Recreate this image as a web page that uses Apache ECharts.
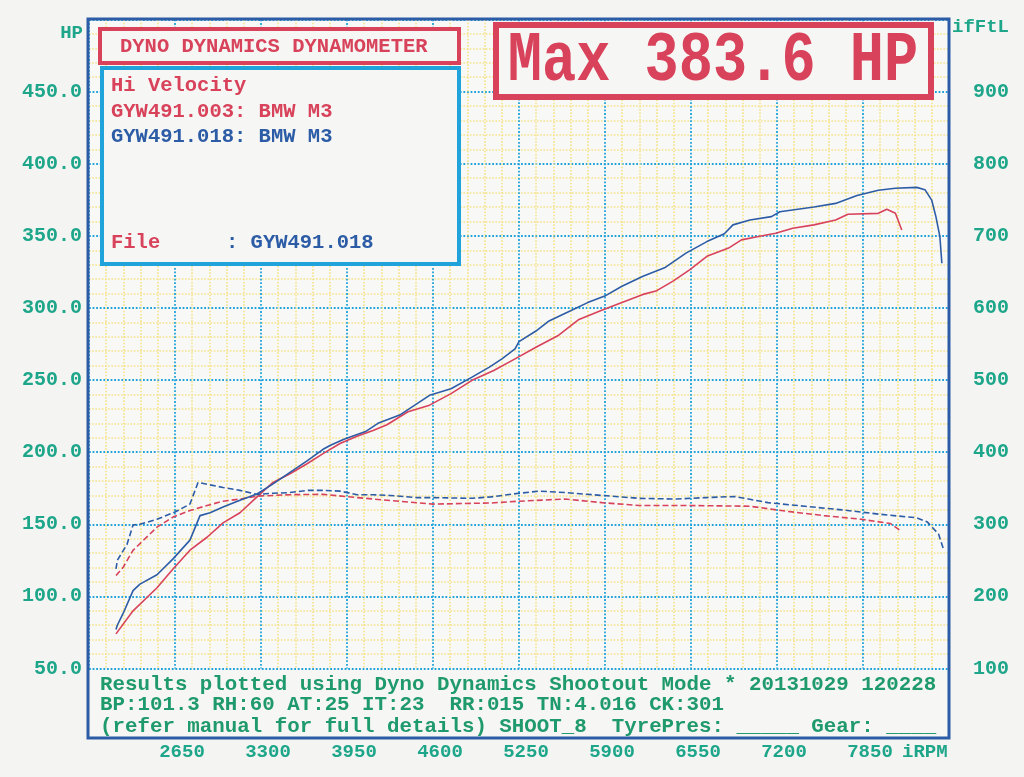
<!DOCTYPE html>
<html>
<head>
<meta charset="utf-8">
<script src="https://cdn.jsdelivr.net/npm/echarts@6/dist/echarts.min.js"></script>
<style>
html,body{margin:0;padding:0;background:#f4f4f2;}
#chart{width:1024px;height:777px;}
</style>
</head>
<body>
<div id="chart"></div>
<script>
// ---- Data read from the dyno sheet ----
const hp018 = [[2204,77],[2214,80],[2257,88],[2333,104],[2385,108.5],[2514,115],[2635,126],[2763,139],[2839,156],[2915,158],[3013,162],[3141,166.6],[3270,171],[3391,178],[3519,186],[3648,194],[3769,202],[3829,205],[3927,209],[4090,214.3],[4184,220],[4348,225.7],[4574,239.4],[4736,244],[4895,252],[5026,259],[5121,264.7],[5220,271.6],[5250,276.6],[5378,284],[5477,291],[5640,298],[5769,303.7],[5898,308.2],[6028,315],[6187,322],[6350,327.8],[6512,338],[6670,346],[6802,351.4],[6867,357.6],[6995,361],[7158,363.3],[7222,366.7],[7479,370],[7643,372.5],[7805,378],[7966,381.6],[8095,383],[8256,383.6],[8318,382],[8369,374.8],[8401,363.3],[8431,349.5],[8446,331]];
const hp003 = [[2204,74],[2333,90],[2514,106],[2635,119],[2763,132],[2892,141],[3013,151],[3141,158],[3270,169],[3391,179],[3519,185],[3648,192],[3769,199],[3897,206],[4026,211],[4147,215],[4252,219],[4411,228],[4574,232.6],[4736,240.6],[4895,249.8],[5059,256.6],[5220,264.7],[5378,272.7],[5543,280.7],[5703,292],[5866,298],[6028,303.7],[6187,309.4],[6285,311.7],[6414,318.6],[6542,326.6],[6670,335.8],[6834,341.5],[6931,347.2],[7060,349.5],[7190,351.8],[7319,355.3],[7479,357.6],[7643,361],[7736,365],[7966,365.6],[8030,368.4],[8095,365.6],[8143,354]];
const tq018 = [[2204,238],[2214,250],[2287,272],[2333,299],[2385,300],[2514,307],[2650,317],[2763,328],[2824,358],[2839,358],[3013,351],[3141,347],[3270,341.5],[3391,343],[3519,344],[3648,347],[3769,347],[3897,346],[4026,341],[4147,341],[4275,340],[4479,337],[4600,337],[4895,336],[5038,338],[5250,343],[5401,346],[5597,344],[5877,340],[6157,336],[6436,335],[6660,337],[6882,338.5],[7131,330],[7411,325],[7691,320],[7971,314],[8254,309],[8337,303],[8421,286.5],[8461,264]];
const tq003 = [[2204,229],[2257,240],[2333,264],[2514,296],[2635,310],[2763,319],[2892,326],[3013,332],[3141,335],[3270,339],[3391,340],[3519,341],[3769,341.5],[4026,337],[4275,333],[4600,328],[5038,329.5],[5250,332],[5597,335],[5877,330],[6157,326],[6542,326],[6995,325],[7275,318],[7555,312],[7835,307],[8058,301],[8142,290]];

const rpmMin = 2000, rpmMax = 8500, rpmStep = 650;
const hpMin = 50, hpMax = 500, hpStep = 50;
const tqMin = 100, tqMax = 1000, tqStep = 100;

const titleText = 'DYNO DYNAMICS DYNAMOMETER';
const maxText = 'Max 383.6 HP';
const infoLines = ['Hi Velocity', 'GYW491.003: BMW M3', 'GYW491.018: BMW M3'];
const fileName = 'GYW491.018';
const footLines = [
  'Results plotted using Dyno Dynamics Shootout Mode * 20131029 120228',
  'BP:101.3 RH:60 AT:25 IT:23  RR:015 TN:4.016 CK:301',
  '(refer manual for full details) SHOOT_8  TyrePres: _____ Gear: ____'
];

// ---- Styles ----
const RED = '#d8425a', BLUE = '#2d5ca6', CYAN = '#1fa3da', TEAL = '#1ea68a', GREEN = '#1f9a6c', YEL = '#f5e38a';
const FONT = '"Liberation Mono", "DejaVu Sans Mono", monospace';

const chart = echarts.init(document.getElementById('chart'));
chart.setOption({
  backgroundColor: '#f4f4f2',
  animation: false,
  grid: { left: 89, right: 75, top: 19.5, bottom: 108.5, show: true, backgroundColor: '#f8f8f6', borderWidth: 0 },
  xAxis: {
    type: 'value', min: rpmMin, max: rpmMax, interval: rpmStep,
    axisLine: { show: false }, axisTick: { show: false },
    axisLabel: {
      margin: 74, color: TEAL, fontFamily: FONT, fontWeight: 'bold', fontSize: 19,
      padding: [0, 0, 0, 14],
      formatter: v => (v === rpmMin || v === rpmMax) ? '' : String(v)
    },
    splitLine: { show: true, lineStyle: { color: CYAN, type: 'dotted', width: 1.8 } },
    minorTick: { show: false, splitNumber: 5 },
    minorSplitLine: { show: true, lineStyle: { color: YEL, type: 'dotted', width: 1.6 } }
  },
  yAxis: [
    {
      type: 'value', min: hpMin, max: hpMax, interval: hpStep,
      axisLine: { show: false }, axisTick: { show: false },
      axisLabel: {
        margin: 7, color: TEAL, fontFamily: FONT, fontWeight: 'bold', fontSize: 20,
        formatter: v => v === hpMax ? '' : v.toFixed(1)
      },
      splitLine: { show: true, lineStyle: { color: CYAN, type: 'dotted', width: 1.8 } },
      minorTick: { show: false, splitNumber: 5 },
      minorSplitLine: { show: true, lineStyle: { color: YEL, type: 'dotted', width: 1.6 } }
    },
    {
      type: 'value', min: tqMin, max: tqMax, interval: tqStep, position: 'right',
      axisLine: { show: false }, axisTick: { show: false },
      axisLabel: {
        margin: 24, color: TEAL, fontFamily: FONT, fontWeight: 'bold', fontSize: 20,
        formatter: v => v === tqMax ? '' : String(v)
      },
      splitLine: { show: false }
    }
  ],
  series: [
    { name: 'HP 003', type: 'line', data: hp003, showSymbol: false, z: 5,
      lineStyle: { color: RED, width: 1.6 } },
    { name: 'HP 018', type: 'line', data: hp018, showSymbol: false, z: 6,
      lineStyle: { color: BLUE, width: 1.6 } },
    { name: 'TQ 003', type: 'line', data: tq003, yAxisIndex: 1, showSymbol: false, z: 5,
      lineStyle: { color: RED, width: 1.6, type: [6, 3] } },
    { name: 'TQ 018', type: 'line', data: tq018, yAxisIndex: 1, showSymbol: false, z: 6,
      lineStyle: { color: BLUE, width: 1.6, type: [6, 3] } }
  ],
  graphic: [
    { type: 'rect', z: 50, shape: { x: 88, y: 19, width: 861, height: 719 },
      style: { fill: null, stroke: BLUE, lineWidth: 3 } },
    { type: 'rect', z: 40, shape: { x: 90, y: 670, width: 857, height: 66 },
      style: { fill: '#f6f6f4' } },
    { type: 'rect', z: 60, shape: { x: 100, y: 29, width: 359, height: 34 },
      style: { fill: '#f6f6f4', stroke: RED, lineWidth: 4 } },
    { type: 'text', z: 61, x: 120, y: 47,
      style: { text: titleText, fill: RED, font: 'bold 20.5px ' + FONT, verticalAlign: 'middle' } },
    { type: 'rect', z: 60, shape: { x: 102, y: 68, width: 357, height: 196 },
      style: { fill: '#f6f6f4', stroke: CYAN, lineWidth: 4 } },
    { type: 'text', z: 61, x: 111, y: 86,
      style: { text: infoLines[0], fill: RED, font: 'bold 20.5px ' + FONT, verticalAlign: 'middle' } },
    { type: 'text', z: 61, x: 111, y: 112,
      style: { text: infoLines[1], fill: RED, font: 'bold 20.5px ' + FONT, verticalAlign: 'middle' } },
    { type: 'text', z: 61, x: 111, y: 137,
      style: { text: infoLines[2], fill: BLUE, font: 'bold 20.5px ' + FONT, verticalAlign: 'middle' } },
    { type: 'text', z: 61, x: 111, y: 243,
      style: { text: 'File', fill: RED, font: 'bold 20.5px ' + FONT, verticalAlign: 'middle' } },
    { type: 'text', z: 61, x: 226, y: 243,
      style: { text: ': ' + fileName, fill: BLUE, font: 'bold 20.5px ' + FONT, verticalAlign: 'middle' } },
    { type: 'rect', z: 60, shape: { x: 496, y: 25, width: 435, height: 72 },
      style: { fill: '#f6f6f4', stroke: RED, lineWidth: 6 } },
    { type: 'text', z: 61, x: 713, y: 62, scaleY: 1.22,
      style: { text: maxText, fill: RED, font: 'bold 57px ' + FONT, align: 'center', verticalAlign: 'middle' } },
    { type: 'text', z: 61, x: 83, y: 33,
      style: { text: 'HP', fill: TEAL, font: 'bold 19px ' + FONT, align: 'right', verticalAlign: 'middle' } },
    { type: 'text', z: 61, x: 952, y: 27,
      style: { text: 'ifFtL', fill: TEAL, font: 'bold 19px ' + FONT, align: 'left', verticalAlign: 'middle' } },
    { type: 'text', z: 61, x: 902, y: 752,
      style: { text: 'iRPM', fill: TEAL, font: 'bold 19px ' + FONT, align: 'left', verticalAlign: 'middle' } },
    { type: 'text', z: 61, x: 100, y: 685,
      style: { text: footLines[0], fill: GREEN, font: 'bold 20.8px ' + FONT, verticalAlign: 'middle' } },
    { type: 'text', z: 61, x: 100, y: 705,
      style: { text: footLines[1], fill: GREEN, font: 'bold 20.8px ' + FONT, verticalAlign: 'middle' } },
    { type: 'text', z: 61, x: 100, y: 727,
      style: { text: footLines[2], fill: GREEN, font: 'bold 20.8px ' + FONT, verticalAlign: 'middle' } }
  ]
});
</script>
</body>
</html>
